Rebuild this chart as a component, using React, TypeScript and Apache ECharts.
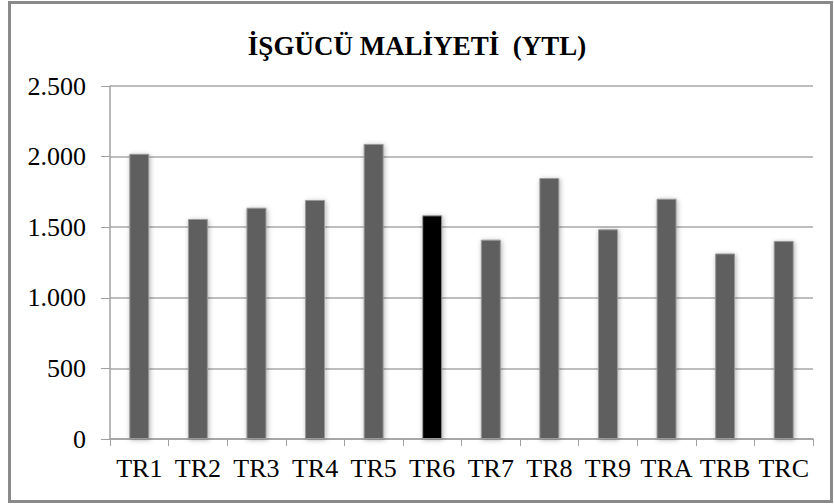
import React, { useEffect, useRef } from "react";
import * as echarts from "echarts";

const categories = ["TR1", "TR2", "TR3", "TR4", "TR5", "TR6", "TR7", "TR8", "TR9", "TRA", "TRB", "TRC"];
const values = [2020, 1558, 1638, 1693, 2090, 1584, 1412, 1848, 1485, 1702, 1314, 1403];
const highlighted = "TR6";
const titleText = "İŞGÜCÜ MALİYETİ  (YTL)";

export default function App() {
  const ref = useRef<HTMLDivElement>(null);
  useEffect(() => {
    document.body.style.margin = "0";
    const chart = echarts.init(ref.current!, null, { renderer: "svg" });
    const serif = "'Liberation Serif', 'Times New Roman', serif";
    chart.setOption({
      animation: false,
      backgroundColor: "#ffffff",
      title: {
        text: titleText,
        left: "center",
        top: 27,
        textStyle: { fontFamily: serif, fontWeight: "bold", fontSize: 27, color: "#000" },
      },
      graphic: [
        {
          type: "rect",
          shape: { x: 9.5, y: 2.5, width: 822, height: 499 },
          style: { fill: "none", stroke: "#8a8a8a", lineWidth: 3 },
          silent: true,
        },
      ],
      grid: { left: 110, right: 21, top: 86, bottom: 65 },
      xAxis: {
        type: "category",
        data: categories,
        axisLine: { lineStyle: { color: "#a0a0a0", width: 1.5 } },
        axisTick: { show: true, length: 7, lineStyle: { color: "#a0a0a0" } },
        axisLabel: { fontFamily: serif, fontSize: 26, color: "#000", margin: 16, interval: 0, hideOverlap: false },
      },
      yAxis: {
        type: "value",
        min: 0,
        max: 2500,
        interval: 500,
        axisLine: { show: true, lineStyle: { color: "#a0a0a0", width: 1.5 } },
        axisTick: { show: true, length: 9, lineStyle: { color: "#a0a0a0" } },
        splitLine: { lineStyle: { color: "#a8a8a8", width: 1.5 } },
        axisLabel: {
          fontFamily: serif,
          fontSize: 26,
          color: "#000",
          margin: 24,
          formatter: (v: number) => v.toLocaleString("de-DE"),
        },
      },
      series: [
        {
          type: "bar",
          barWidth: 20,
          data: values.map((v, i) => ({
            value: v,
            itemStyle: {
              color: categories[i] === highlighted ? "#000000" : "#5f5f5f",
            },
          })),
          itemStyle: {
            borderColor: "#9a9a9a",
            borderWidth: 1,
            shadowBlur: 5,
            shadowColor: "rgba(0,0,0,0.3)",
            shadowOffsetX: 1,
            shadowOffsetY: 1,
          },
        },
      ],
    });
    return () => chart.dispose();
  }, []);
  return <div ref={ref} style={{ width: 834, height: 504 }} />;
}
